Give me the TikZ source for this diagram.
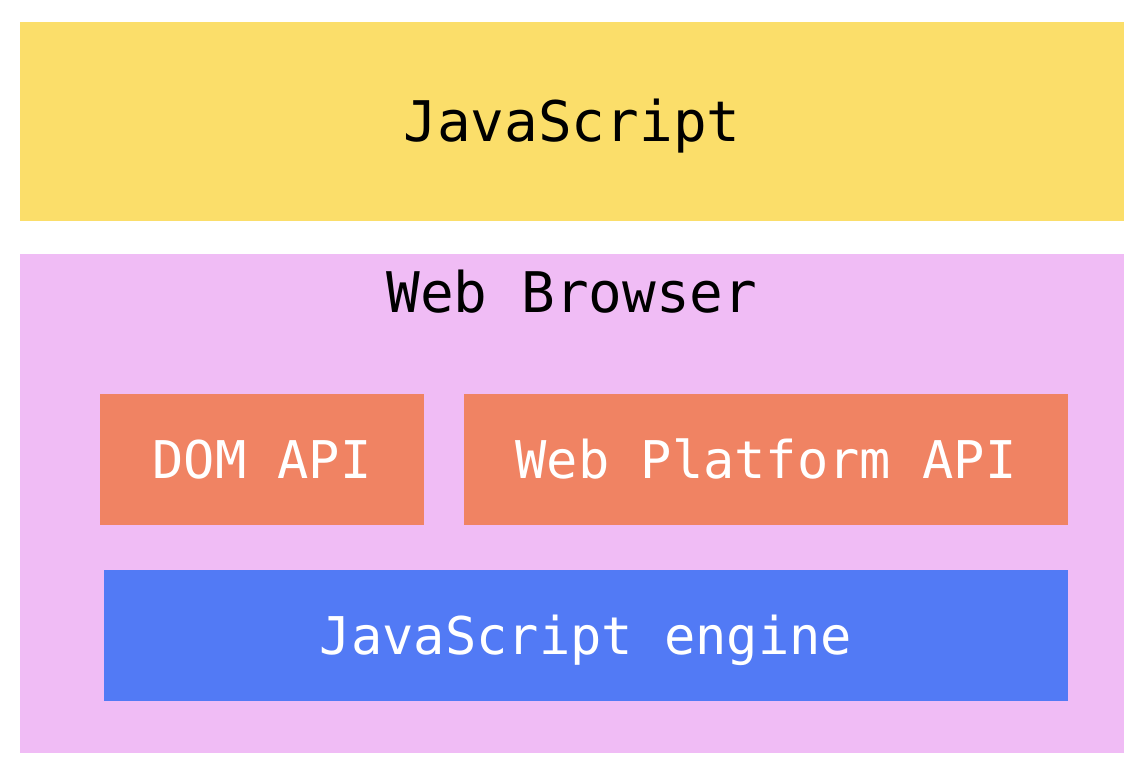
\documentclass[tikz,border=0pt]{standalone}
\usepackage{fontspec}
\setmonofont{DejaVu Sans Mono}
\definecolor{jsyellow}{RGB}{251,222,106}
\definecolor{browserpink}{RGB}{240,188,245}
\definecolor{apiorange}{RGB}{240,131,99}
\definecolor{engineblue}{RGB}{82,122,245}
\begin{document}
\begin{tikzpicture}[x=0.5pt,y=-0.5pt,
  layer/.style={inner sep=0pt,outer sep=0pt,draw=none},
  darktext/.style={layer,text=black,font=\ttfamily\fontsize{28}{34}\selectfont,text height=20.5pt,text depth=0pt},
  lighttext/.style={layer,text=white,font=\ttfamily\fontsize{26}{31}\selectfont,text height=19pt,text depth=0pt}]
\useasboundingbox (0,0) rectangle (1148,774);
\fill[white] (0,0) rectangle (1148,774);
\node[darktext,fill=jsyellow,minimum width=552pt,minimum height=99.5pt] (js) at (572,121.5) {JavaScript};
\node[layer,fill=browserpink,minimum width=552pt,minimum height=249.5pt] (browser) at (572,503.5) {};
\node[darktext] (browsertitle) at (572,292.5) {Web Browser};
\node[lighttext,fill=apiorange,minimum width=162pt,minimum height=65.5pt] (dom) at (262,459.5) {DOM API};
\node[lighttext,fill=apiorange,minimum width=302pt,minimum height=65.5pt] (wpa) at (766,459.5) {Web Platform API};
\node[lighttext,fill=engineblue,minimum width=482pt,minimum height=65.5pt] (engine) at (586,635.5) {JavaScript engine};
\end{tikzpicture}
\end{document}
